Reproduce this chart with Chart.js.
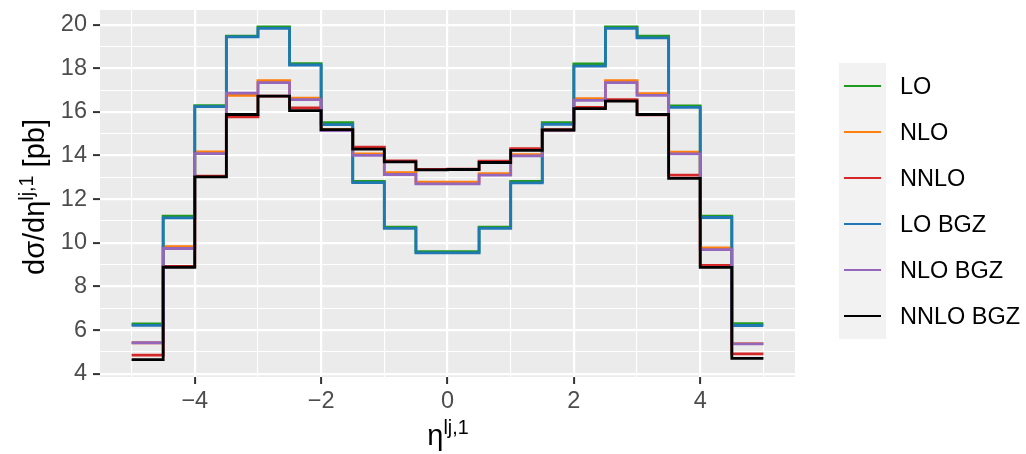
<!DOCTYPE html>
<html>
<head>
<meta charset="utf-8">
<script src="https://cdn.jsdelivr.net/npm/chart.js@4"></script>
<style>
    body { margin: 0; background: #fff; }
    #wrap { position: relative; width: 1026px; height: 454px; font-family: 'Liberation Sans', Arial, sans-serif; }
    #plot { position: absolute; left: 0; top: 0; }
    sup { font-size: 0.68em; position: relative; top: -0.55em; vertical-align: baseline; }
    .axis-title { position: absolute; white-space: nowrap; color: #000; font-size: 29px; line-height: 29px; }
    #ytitle { left: 36px; top: 197px; transform: translate(-50%, -50%) rotate(-90deg); }
    #xtitle { left: 448px; top: 421px; transform: translateX(-50%); }
    #legend { position: absolute; left: 839px; top: 63px; }
    .key-row { position: relative; height: 46px; }
    .key { position: absolute; left: 0; top: 0; width: 47px; height: 46px; background: #F2F2F2; }
    .key span { position: absolute; left: 5px; right: 5px; top: 21.5px; height: 2.8px; }
    .label { position: absolute; left: 61px; top: 9px; font-size: 23.5px; line-height: 28px; color: #000; white-space: nowrap; }
</style>
</head>
<body>
<div id="wrap">
    <canvas id="plot" width="1026" height="454"></canvas>
    <div id="ytitle" class="axis-title">dσ/dη<sup>lj,1</sup> [pb]</div>
    <div id="xtitle" class="axis-title">η<sup>lj,1</sup></div>
    <div id="legend"></div>
</div>
<script>
// bin edges in eta, 0.5 wide
var binEdges = [-5, -4.5, -4, -3.5, -3, -2.5, -2, -1.5, -1, -0.5, 0, 0.5, 1, 1.5, 2, 2.5, 3, 3.5, 4, 4.5, 5];

var seriesNames = ['LO', 'NLO', 'NNLO', 'LO BGZ', 'NLO BGZ', 'NNLO BGZ'];
var seriesColors = ['#1f9a1f', '#ff7f0e', '#d62728', '#1f77b4', '#9467bd', '#000000'];

var valuesLO = [6.28, 11.22, 16.29, 19.47, 19.89, 18.21, 15.51, 12.81, 10.72, 9.59,
    9.59, 10.72, 12.81, 15.51, 18.20, 19.89, 19.47, 16.28, 11.22, 6.29];
var valuesNLO = [5.42, 9.82, 14.17, 16.76, 17.43, 16.63, 15.20, 14.08, 13.21, 12.78,
    12.78, 13.17, 14.04, 15.20, 16.61, 17.43, 16.84, 14.15, 9.77, 5.38];
var valuesNNLO = [4.85, 8.92, 13.05, 15.77, 16.72, 16.18, 15.15, 14.38, 13.75, 13.36,
    13.38, 13.74, 14.32, 15.17, 16.21, 16.56, 15.86, 13.10, 8.96, 4.91];
var valuesLOBGZ = [6.22, 11.14, 16.24, 19.44, 19.83, 18.15, 15.42, 12.76, 10.66, 9.54,
    9.54, 10.66, 12.75, 15.43, 18.10, 19.83, 19.39, 16.21, 11.16, 6.21];
var valuesNLOBGZ = [5.42, 9.74, 14.09, 16.86, 17.34, 16.56, 15.14, 14.01, 13.13, 12.70,
    12.70, 13.10, 13.98, 15.16, 16.53, 17.34, 16.76, 14.08, 9.69, 5.37];
var valuesNNLOBGZ = [4.65, 8.88, 13.02, 15.88, 16.72, 16.06, 15.19, 14.29, 13.71, 13.34,
    13.36, 13.68, 14.24, 15.17, 16.15, 16.49, 15.88, 12.95, 8.87, 4.70];

var allValues = [valuesLO, valuesNLO, valuesNNLO, valuesLOBGZ, valuesNLOBGZ, valuesNNLOBGZ];

var xTicks = [-5, -4, -3, -2, -1, 0, 1, 2, 3, 4, 5];
var yTicks = [4, 5, 6, 7, 8, 9, 10, 11, 12, 13, 14, 15, 16, 17, 18, 19, 20];
var xRange = [-5.5, 5.5];
var yRange = [3.85, 20.67];

// one point per left edge, plus the closing edge so the last bin is drawn
function stepPoints(vals) {
    var pts = [];
    for (var i = 0; i < vals.length; i++) {
        pts.push({ x: binEdges[i], y: vals[i] });
    }
    pts.push({ x: binEdges[vals.length], y: vals[vals.length - 1] });
    return pts;
}

var datasets = [];
for (var s = 0; s < seriesNames.length; s++) {
    datasets.push({
        label: seriesNames[s],
        data: stepPoints(allValues[s]),
        borderColor: seriesColors[s],
        borderWidth: 2.8,
        pointRadius: 0,
        stepped: 'before',
        fill: false,
        order: seriesNames.length - s   // later series painted on top, like ggplot
    });
}

// html legend, ggplot style grey keys
var legendHtml = '';
for (var k = 0; k < seriesNames.length; k++) {
    legendHtml += "<div class='key-row'><div class='key'><span style='background:" + seriesColors[k] +
        "'></span></div><div class='label'>" + seriesNames[k] + "</div></div>";
}
document.getElementById('legend').innerHTML = legendHtml;

var panelBg = {
    id: 'panelBg',
    beforeDraw: function (chart) {
        var a = chart.chartArea;
        var ctx = chart.ctx;
        ctx.save();
        ctx.fillStyle = '#EBEBEB';
        ctx.fillRect(a.left, a.top, a.right - a.left, a.bottom - a.top);
        ctx.restore();
    }
};

function isMajor(v) {
    return Math.round(v) % 2 === 0;
}

var tickFont = { family: "'Liberation Sans', Arial, sans-serif", size: 23.5 };

var chart = new Chart(document.getElementById('plot').getContext('2d'), {
    type: 'line',
    data: { datasets: datasets },
    plugins: [panelBg],
    options: {
        responsive: false,
        animation: false,
        layout: { padding: { left: 0, top: 10, right: 231, bottom: 0 } },
        plugins: { legend: { display: false }, tooltip: { enabled: false } },
        scales: {
            x: {
                type: 'linear',
                min: xRange[0],
                max: xRange[1],
                afterBuildTicks: function (scale) {
                    scale.ticks = xTicks.map(function (v) { return { value: v }; });
                },
                afterFit: function (scale) {
                    scale.height = 77;
                    scale.paddingLeft = 0;
                    scale.paddingRight = 0;
                },
                border: { display: false },
                grid: {
                    color: '#FFFFFF',
                    lineWidth: function (c) { return isMajor(c.tick.value) ? 2.2 : 1.1; },
                    tickColor: function (c) { return isMajor(c.tick.value) ? '#333333' : 'rgba(0,0,0,0)'; },
                    tickLength: 7,
                    tickWidth: 2
                },
                ticks: {
                    autoSkip: false,
                    maxRotation: 0,
                    padding: 3,
                    color: '#4D4D4D',
                    font: tickFont,
                    callback: function (v) {
                        if (!isMajor(v)) return '';
                        return v < 0 ? '\u2212' + Math.abs(v) : String(v);
                    }
                }
            },
            y: {
                type: 'linear',
                min: yRange[0],
                max: yRange[1],
                afterBuildTicks: function (scale) {
                    scale.ticks = yTicks.map(function (v) { return { value: v }; });
                },
                afterFit: function (scale) {
                    scale.width = 100;
                    scale.paddingTop = 0;
                    scale.paddingBottom = 0;
                },
                border: { display: false },
                grid: {
                    color: '#FFFFFF',
                    lineWidth: function (c) { return isMajor(c.tick.value) ? 2.2 : 1.1; },
                    tickColor: function (c) { return isMajor(c.tick.value) ? '#333333' : 'rgba(0,0,0,0)'; },
                    tickLength: 7,
                    tickWidth: 2
                },
                ticks: {
                    autoSkip: false,
                    padding: 6,
                    color: '#4D4D4D',
                    font: tickFont,
                    callback: function (v) { return isMajor(v) ? String(v) : ''; }
                }
            }
        }
    }
});
</script>
</body>
</html>
